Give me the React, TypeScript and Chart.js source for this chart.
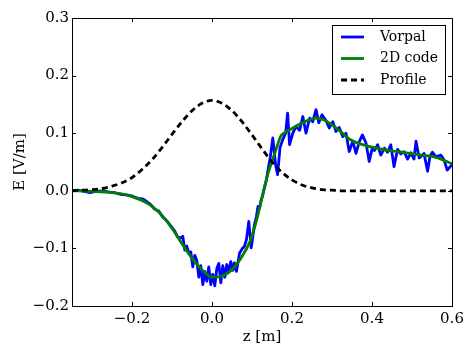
import React, { useEffect, useRef } from "react";
import { Chart, registerables } from "chart.js";

Chart.register(...registerables);

const vorpalZ = [
  -0.35, -0.335, -0.32, -0.305, -0.29, -0.275, -0.26, -0.245, -0.23, -0.215,
  -0.2, -0.185, -0.173, -0.163, -0.153, -0.143, -0.133, -0.123, -0.113, -0.103,
  -0.093, -0.086, -0.078, -0.073, -0.068, -0.063, -0.058, -0.053, -0.048, -0.043,
  -0.038, -0.033, -0.028, -0.023, -0.018, -0.013, -0.008, -0.003, 0.002, 0.007,
  0.012, 0.017, 0.022, 0.027, 0.032, 0.037, 0.042, 0.047, 0.052, 0.056,
  0.061, 0.069, 0.076, 0.081, 0.086, 0.092, 0.098, 0.103, 0.106, 0.111,
  0.115, 0.119, 0.123, 0.127, 0.131, 0.136, 0.14, 0.146, 0.152, 0.159,
  0.164, 0.17, 0.177, 0.184, 0.189, 0.194, 0.202, 0.21, 0.219, 0.227,
  0.235, 0.244, 0.252, 0.26, 0.267, 0.275, 0.285, 0.293, 0.302, 0.31,
  0.318, 0.327, 0.335, 0.343, 0.352, 0.36, 0.368, 0.376, 0.385, 0.393,
  0.401, 0.406, 0.414, 0.422, 0.431, 0.439, 0.447, 0.455, 0.464, 0.472,
  0.48, 0.489, 0.497, 0.505, 0.51, 0.518, 0.526, 0.53, 0.539, 0.545,
  0.551, 0.56, 0.572, 0.58, 0.588, 0.597, 0.6,
];
const vorpalE = [
  0.0, 0.001, -0.001, -0.003, -0.001, 0.0, -0.002, -0.003, -0.006, -0.007,
  -0.009, -0.013, -0.014, -0.019, -0.024, -0.032, -0.035, -0.046, -0.052, -0.061,
  -0.07, -0.08, -0.082, -0.079, -0.103, -0.096, -0.108, -0.106, -0.132, -0.112,
  -0.121, -0.15, -0.13, -0.163, -0.14, -0.157, -0.132, -0.163, -0.145, -0.165,
  -0.135, -0.126, -0.16, -0.13, -0.15, -0.128, -0.14, -0.123, -0.138, -0.125,
  -0.14, -0.108, -0.1, -0.097, -0.085, -0.053, -0.099, -0.075, -0.059, -0.045,
  -0.027, -0.03, -0.016, -0.007, 0.005, 0.019, 0.036, 0.06, 0.092, 0.045,
  0.028, 0.075, 0.089, 0.1, 0.135, 0.08, 0.1, 0.112, 0.105, 0.129,
  0.1, 0.126, 0.12, 0.141, 0.118, 0.132, 0.122, 0.109, 0.12, 0.103,
  0.11, 0.094, 0.1, 0.068, 0.086, 0.065, 0.085, 0.097, 0.083, 0.051,
  0.075, 0.07, 0.08, 0.062, 0.074, 0.067, 0.08, 0.042, 0.072, 0.064,
  0.068, 0.055, 0.066, 0.055, 0.086, 0.057, 0.062, 0.065, 0.034, 0.06,
  0.067, 0.059, 0.062, 0.054, 0.036, 0.043, 0.045,
];

const codeZ = [
  -0.35, -0.3, -0.25, -0.22, -0.2, -0.175, -0.15, -0.125, -0.1, -0.075,
  -0.05, -0.025, 0.0, 0.025, 0.05, 0.075, 0.095, 0.11, 0.127, 0.14,
  0.152, 0.163, 0.172, 0.18, 0.2, 0.226, 0.26, 0.288, 0.318, 0.343,
  0.368, 0.426, 0.475, 0.525, 0.56, 0.6,
];
const codeE = [
  0.0, -0.001, -0.003, -0.006, -0.01, -0.017, -0.027, -0.043, -0.065, -0.092,
  -0.117, -0.137, -0.15, -0.148, -0.137, -0.114, -0.088, -0.055, -0.006, 0.03,
  0.055, 0.078, 0.095, 0.1, 0.108, 0.118, 0.126, 0.12, 0.105, 0.09,
  0.082, 0.072, 0.067, 0.062, 0.058, 0.047,
];

const profileZ = [
  -0.35, -0.325, -0.3, -0.275, -0.25, -0.225, -0.2, -0.175, -0.15, -0.125,
  -0.1, -0.075, -0.05, -0.025, 0.0, 0.025, 0.05, 0.075, 0.1, 0.125,
  0.15, 0.175, 0.2, 0.225, 0.25, 0.275, 0.3, 0.325, 0.35, 0.4,
  0.45, 0.5, 0.55, 0.6,
];
const profileE = [
  0.0005, 0.001, 0.002, 0.004, 0.008, 0.014, 0.023, 0.037, 0.054, 0.075,
  0.098, 0.12, 0.139, 0.152, 0.157, 0.152, 0.139, 0.12, 0.097, 0.073,
  0.05, 0.032, 0.019, 0.01, 0.005, 0.002, 0.001, 0.0, 0.0, 0.0,
  0.0, 0.0, 0.0, 0.0,
];

const xTicks = [-0.2, 0.0, 0.2, 0.4, 0.6];
const yTicks = [-0.2, -0.1, 0.0, 0.1, 0.2, 0.3];
const seriesNames = ["Vorpal", "2D code", "Profile"];
const seriesColors = ["#0000ff", "#008000", "#000000"];
const xTitle = "z [m]";
const yTitle = "E [V/m]";

const FONT = "DejaVu Serif";
const LW = 2.8;

const fmt = (v: number) => {
  const s = Math.abs(v).toFixed(1);
  return v < -1e-9 ? "\u2212" + s : s;
};

const toPoints = (xs: number[], ys: number[]) => xs.map((x, i) => ({ x, y: ys[i] }));

const framePlugin = {
  id: "frameTicks",
  afterDatasetsDraw(chart: any) {
    const { ctx, chartArea } = chart;
    const { left, right, top, bottom } = chartArea;
    const xs = chart.scales.x;
    const ys = chart.scales.y;
    const L = 4;
    ctx.save();
    ctx.strokeStyle = "#000";
    ctx.lineWidth = 1;
    ctx.beginPath();
    for (const v of xTicks) {
      const px = Math.round(xs.getPixelForValue(v)) + 0.5;
      ctx.moveTo(px, bottom);
      ctx.lineTo(px, bottom - L);
      ctx.moveTo(px, top);
      ctx.lineTo(px, top + L);
    }
    for (const v of yTicks) {
      const py = Math.round(ys.getPixelForValue(v)) + 0.5;
      ctx.moveTo(left, py);
      ctx.lineTo(left + L, py);
      ctx.moveTo(right, py);
      ctx.lineTo(right - L, py);
    }
    ctx.stroke();
    ctx.strokeRect(Math.round(left) + 0.5, Math.round(top) + 0.5, Math.round(right - left), Math.round(bottom - top));
    ctx.restore();
  },
  afterDraw(chart: any) {
    const { ctx, chartArea } = chart;
    const bx = chartArea.right - 120;
    const by = chartArea.top + 7;
    const bw = 113;
    const bh = 69;
    ctx.save();
    ctx.fillStyle = "#fff";
    ctx.fillRect(bx, by, bw, bh);
    ctx.strokeStyle = "#000";
    ctx.lineWidth = 1;
    ctx.strokeRect(Math.round(bx) + 0.5, Math.round(by) + 0.5, bw, bh);
    ctx.font = `14px "${FONT}"`;
    ctx.textBaseline = "middle";
    ctx.textAlign = "left";
    const rows = [12, 33.5, 55];
    seriesNames.forEach((name, i) => {
      const y = by + rows[i];
      ctx.beginPath();
      ctx.strokeStyle = seriesColors[i];
      ctx.lineWidth = LW;
      ctx.setLineDash(i === 2 ? [6, 4] : []);
      ctx.moveTo(bx + 9, y);
      ctx.lineTo(bx + 32, y);
      ctx.stroke();
      ctx.setLineDash([]);
      ctx.fillStyle = "#000";
      ctx.fillText(name, bx + 48, y);
    });
    ctx.restore();
  },
};

export default function App() {
  const ref = useRef<HTMLCanvasElement | null>(null);
  useEffect(() => {
    if (!ref.current) return;
    const chart = new Chart(ref.current, {
      type: "line",
      data: {
        datasets: [
          {
            label: seriesNames[0],
            data: toPoints(vorpalZ, vorpalE),
            borderColor: seriesColors[0],
            borderWidth: LW,
            borderJoinStyle: "round",
            borderCapStyle: "round",
            pointRadius: 0,
            tension: 0,
            order: 3,
          },
          {
            label: seriesNames[1],
            data: toPoints(codeZ, codeE),
            borderColor: seriesColors[1],
            borderWidth: LW,
            borderJoinStyle: "round",
            pointRadius: 0,
            cubicInterpolationMode: "monotone",
            order: 2,
          },
          {
            label: seriesNames[2],
            data: toPoints(profileZ, profileE),
            borderColor: seriesColors[2],
            borderWidth: LW,
            borderDash: [6, 4],
            pointRadius: 0,
            cubicInterpolationMode: "monotone",
            order: 1,
          },
        ],
      },
      options: {
        responsive: false,
        animation: false,
        events: [],
        layout: { padding: { top: 18, right: 23, left: 0, bottom: 0 } },
        plugins: { legend: { display: false }, tooltip: { enabled: false } },
        scales: {
          x: {
            type: "linear",
            min: -0.35,
            max: 0.6,
            afterBuildTicks: (s: any) => {
              s.ticks = xTicks.map((v) => ({ value: v }));
            },
            afterFit: (s: any) => {
              s.height = 52;
            },
            grid: { display: false, drawTicks: false },
            border: { display: false },
            ticks: {
              color: "#000",
              font: { family: FONT, size: 15 },
              padding: 4,
              maxRotation: 0,
              autoSkip: false,
              callback: (v: any) => fmt(Number(v)),
            },
            title: {
              display: true,
              text: xTitle,
              color: "#000",
              font: { family: FONT, size: 15 },
              padding: { top: 0, bottom: 12 },
            },
          },
          y: {
            type: "linear",
            min: -0.2,
            max: 0.3,
            afterBuildTicks: (s: any) => {
              s.ticks = yTicks.map((v) => ({ value: v }));
            },
            afterFit: (s: any) => {
              s.width = 72;
            },
            grid: { display: false, drawTicks: false },
            border: { display: false },
            ticks: {
              color: "#000",
              font: { family: FONT, size: 15 },
              padding: 3,
              autoSkip: false,
              callback: (v: any) => fmt(Number(v)),
            },
            title: {
              display: true,
              text: yTitle,
              color: "#000",
              font: { family: FONT, size: 15 },
              padding: { top: 11, bottom: 0 },
            },
          },
        },
      },
      plugins: [framePlugin],
    } as any);
    return () => chart.destroy();
  }, []);
  return (
    <div style={{ position: "fixed", left: 0, top: 0, width: 475, height: 358, background: "#fff" }}>
      <canvas ref={ref} width={475} height={358} />
    </div>
  );
}
